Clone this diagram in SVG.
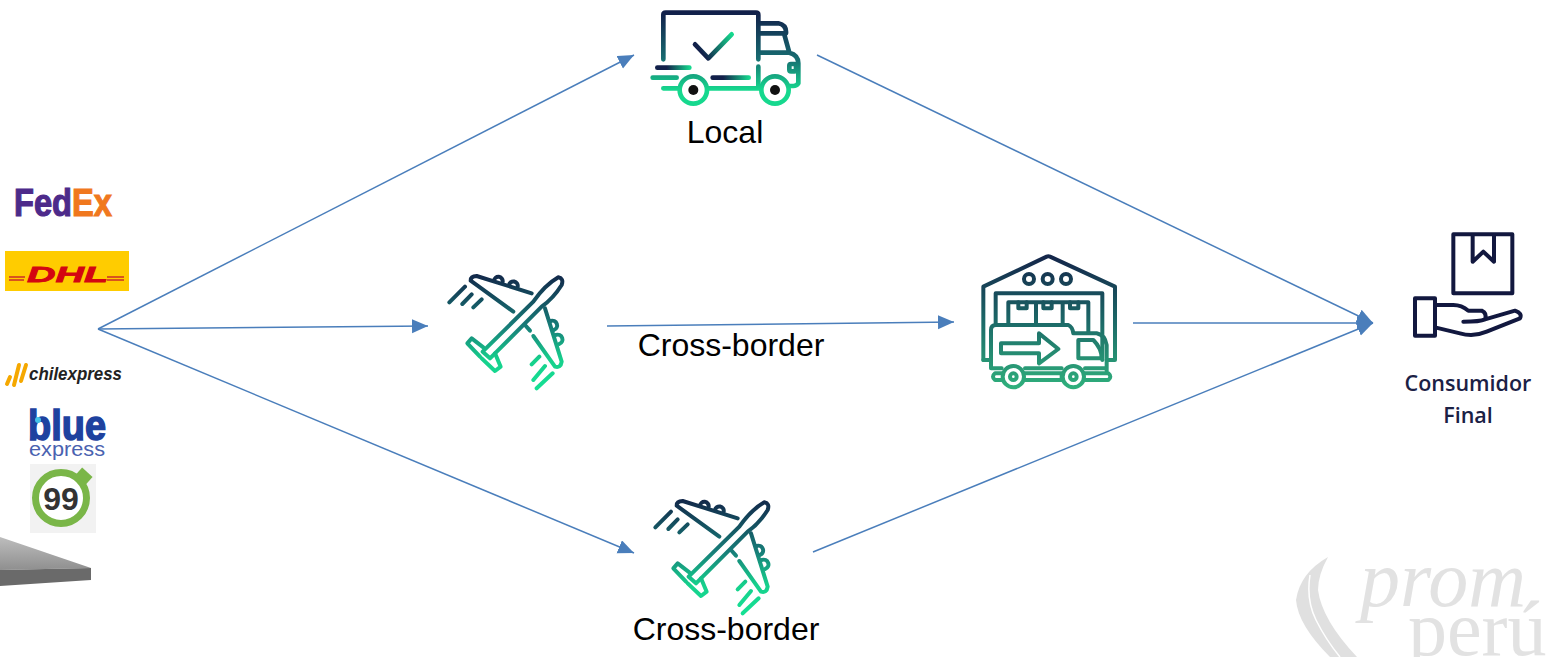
<svg xmlns="http://www.w3.org/2000/svg" width="1562" height="657" viewBox="0 0 1562 657">
<style>
.c{fill:none;stroke:#4a7ebb;stroke-width:1.5}
.i{fill:none;stroke-width:12;stroke-linecap:round;stroke-linejoin:round}
.t{stroke-width:14}
.l{font-family:"Liberation Sans",Arial,sans-serif;font-size:32px;fill:#000;text-anchor:middle}
.n{font-family:"Open Sans","Noto Sans",sans-serif;font-weight:600;font-size:21.5px;fill:#1b2145;text-anchor:middle}
.b{font-family:"Liberation Sans",Arial,sans-serif;font-weight:700}
.p{font-family:"Liberation Serif","Times New Roman",serif;fill:#e2e2e2}
</style>
<defs>
<marker id="a" markerUnits="userSpaceOnUse" markerWidth="18" markerHeight="16" refX="16" refY="7" orient="auto"><path d="M0,0 L16,7 L0,14 Z" fill="#4a7ebb"/></marker>
<linearGradient id="gp" gradientUnits="userSpaceOnUse" x1="0" y1="45" x2="0" y2="385"><stop offset="0" stop-color="#12284a"/><stop offset=".45" stop-color="#177c78"/><stop offset=".75" stop-color="#16d08c"/><stop offset="1" stop-color="#16e094"/></linearGradient>
<linearGradient id="gt" gradientUnits="userSpaceOnUse" x1="0" y1="38" x2="0" y2="310"><stop offset="0" stop-color="#12204a"/><stop offset=".5" stop-color="#176a70"/><stop offset=".85" stop-color="#16d88e"/></linearGradient>
<linearGradient id="gh1" gradientUnits="userSpaceOnUse" x1="80" y1="0" x2="180" y2="0"><stop offset=".3" stop-color="#12204a"/><stop offset="1" stop-color="#16d88e"/></linearGradient>
<linearGradient id="gh2" gradientUnits="userSpaceOnUse" x1="245" y1="0" x2="358" y2="0"><stop offset=".3" stop-color="#12204a"/><stop offset="1" stop-color="#16d88e"/></linearGradient>
<linearGradient id="gc" gradientUnits="userSpaceOnUse" x1="195" y1="175" x2="305" y2="103"><stop offset=".2" stop-color="#12204a"/><stop offset="1" stop-color="#16d88e"/></linearGradient>
<linearGradient id="gw" gradientUnits="userSpaceOnUse" x1="0" y1="35" x2="0" y2="430"><stop offset="0" stop-color="#14264a"/><stop offset=".5" stop-color="#1c6a68"/><stop offset="1" stop-color="#2fb07c"/></linearGradient>
<linearGradient id="gs" x1="0" y1="0" x2="0" y2="1"><stop offset="0" stop-color="#bdbdbd"/><stop offset="1" stop-color="#8f8f8f"/></linearGradient>
<g id="plane" class="i" stroke="url(#gp)">
<path d="M158,275 L310,125 Q345,75 385,52 Q402,55 395,75 Q370,115 335,140 L180,295 Z"/>
<path d="M250,155 L122,62 Q122,48 140,48 L305,100"/>
<path d="M192,62 A13,13 0 0 1 218,65 M237,75 A13,13 0 0 1 263,80"/>
<path d="M345,145 L395,305 Q392,325 375,320 L310,228"/>
<path d="M362,183 A13,13 0 0 1 372,210 M378,225 A13,13 0 0 1 388,252"/>
<path d="M285,195 L300,212"/>
<path d="M160,262 L125,235 L112,250 L150,290"/>
<path d="M195,280 L212,320 L195,333 L155,295"/>
<path d="M58,127 L105,80 M97,132 L125,103 M130,142 L155,118 M305,313 L328,290 M310,360 L345,318 M320,385 L368,340"/>
</g>
</defs>

<g id="connectors">
<path class="c" d="M98,329 L634,55" marker-end="url(#a)"/>
<path class="c" d="M98,329 L428,326" marker-end="url(#a)"/>
<path class="c" d="M98,329 L634,553" marker-end="url(#a)"/>
<path class="c" d="M607,326 L954,322" marker-end="url(#a)"/>
<path class="c" d="M817,55 L1373,323" marker-end="url(#a)"/>
<path class="c" d="M813,552 L1373,323" marker-end="url(#a)"/>
<path class="c" d="M1133,323 L1373,323" marker-end="url(#a)"/>
</g>

<g id="carriers">
<text class="b" x="14" y="216" font-size="39" stroke-width="1.2" textLength="98" lengthAdjust="spacingAndGlyphs"><tspan fill="#4d2a8a" stroke="#4d2a8a">Fed</tspan><tspan fill="#f0781e" stroke="#f0781e">Ex</tspan></text>
<rect x="5" y="251" width="124" height="40" fill="#ffcc00"/>
<path d="M9,277 H25 M9,280 H24 M107,277 H124 M107,280 H124" stroke="#d9541e" stroke-width="2"/>
<text class="b" x="27" y="282" font-size="22" font-style="italic" fill="#d40511" stroke="#d40511" stroke-width=".8" textLength="81" lengthAdjust="spacingAndGlyphs">DHL</text>
<path d="M7,384 L10,377 M14,385 L19,365 M21,381 L26,365" stroke="#f5a800" stroke-width="4" stroke-linecap="round" fill="none"/>
<text class="b" x="29" y="380" font-size="18" font-style="italic" fill="#222" textLength="93" lengthAdjust="spacingAndGlyphs">chilexpress</text>
<text class="b" x="28" y="440" font-size="42" fill="#1e429f" stroke="#1e429f" stroke-width="1.5" textLength="78" lengthAdjust="spacingAndGlyphs">blue</text>
<circle cx="38" cy="420" r="3" fill="#45c3e8"/>
<text x="29" y="456" font-family="Liberation Sans,Arial,sans-serif" font-size="20" fill="#4a62b0" textLength="76" lengthAdjust="spacingAndGlyphs">express</text>
<rect x="30" y="464" width="66" height="69" fill="#f2f2f2"/>
<circle cx="61" cy="498" r="25.5" fill="#fff" stroke="#7ab648" stroke-width="7"/>
<rect x="77" y="471" width="14" height="10" transform="rotate(42 84 476)" fill="#7ab648"/>
<text class="b" x="61" y="510" font-size="32" fill="#333" text-anchor="middle">99</text>
<path d="M0,537 L91,568 L0,570 Z" fill="url(#gs)"/>
<path d="M0,570 L91,568 V580 L0,586 Z" fill="#6a6a6a"/>
</g>

<g id="local">
<g transform="translate(630 0) scale(.33333)">
<g class="i t" stroke="url(#gt)">
<path d="M100,178 V45 Q100,38 107,38 H378 Q385,38 385,45 V178"/>
<path d="M388,70 H445 Q470,75 468,100 M388,100 H462 L478,158 M388,158 H478 Q505,165 505,190 V250 Q500,258 490,258 H472"/>
<path d="M385,200 V265 M100,265 H145 M235,265 H392"/>
<rect x="478" y="192" width="20" height="22" rx="5"/>
<path d="M68,233 H140"/>
<circle cx="190" cy="270" r="41" fill="#fff"/>
<circle cx="435" cy="270" r="41" fill="#fff"/>
</g>
<path class="i t" stroke="url(#gh1)" d="M82,203 H178"/>
<path class="i t" stroke="url(#gh2)" d="M248,233 H356"/>
<path class="i t" stroke="url(#gc)" d="M195,133 L235,175 L305,103"/>
<circle cx="190" cy="270" r="15" fill="#111"/>
<circle cx="435" cy="270" r="15" fill="#111"/>
</g>
<text class="l" x="725" y="143">Local</text>
</g>

<g id="plane-1"><use href="#plane" transform="translate(430 260) scale(.33333)"/></g>
<text class="l" x="731" y="356">Cross-border</text>

<g id="plane-2"><use href="#plane" transform="translate(636 485) scale(.33333)"/>
<text class="l" x="726" y="640">Cross-border</text></g>

<g id="warehouse">
<g transform="translate(965 245) scale(.33333)" class="i" stroke="url(#gw)">
<path d="M55,345 V125 L245,35 Q250,33 255,35 L450,125 V345 H425"/>
<path d="M75,345 H55 M92,235 V145 H412 V345"/>
<path d="M130,235 V172 H370 V262 M213,172 V235 M293,172 V235"/>
<path d="M160,172 V190 H185 V172 M235,172 V190 H260 V172 M315,172 V190 H340 V172"/>
<circle cx="192" cy="102" r="15"/><circle cx="248" cy="102" r="15"/><circle cx="303" cy="102" r="15"/>
<path d="M78,370 V255 Q78,240 93,240 H310 Q322,245 325,265 H395 Q420,270 425,300 V378 M78,370 H110 M180,370 H290 M360,370 H425"/>
<path d="M108,295 H222 V265 L280,312 L222,355 V325 H108 Z"/>
<path d="M340,285 H385 Q410,310 410,340 H340 Z"/>
<path d="M110,385 H90 Q78,395 90,405 H110 M180,385 H290 V405 H180 M360,385 H430 Q442,395 430,405 H360"/>
<circle cx="145" cy="395" r="32" fill="#fff"/><circle cx="145" cy="395" r="10"/>
<circle cx="325" cy="395" r="32" fill="#fff"/><circle cx="325" cy="395" r="10"/>
</g>
</g>

<g id="consumer">
<g transform="translate(1340 220) scale(.33333)" class="i" stroke="#12183f">
<rect x="340" y="43" width="177" height="177"/>
<path d="M398,45 V125 L430,95 L462,125 V45"/>
<rect x="225" y="235" width="60" height="112"/>
<path d="M285,255 H340 Q365,255 385,272 H425 Q442,280 435,298 Q420,305 370,305 M435,298 L525,272 Q548,280 540,295 L440,335 Q400,352 360,340 L285,322"/>
</g>
<text class="n" x="1468" y="391">Consumidor</text>
<text class="n" x="1468" y="423">Final</text>
</g>

<g id="promperu">
<path d="M1328,557 Q1300,573 1296,600 Q1298,625 1330,657 H1357 Q1322,620 1318,590 Q1318,575 1328,557 Z" fill="#e0e0e0"/>
<path d="M1310,575 Q1306,600 1316,620 Q1326,640 1340,657" fill="none" stroke="#fff" stroke-width="1.5"/>
<text class="p" x="1360" y="606" font-size="80" font-style="italic">prom</text>
<text class="p" x="1408" y="655" font-size="78">perú</text>
</g>
</svg>
